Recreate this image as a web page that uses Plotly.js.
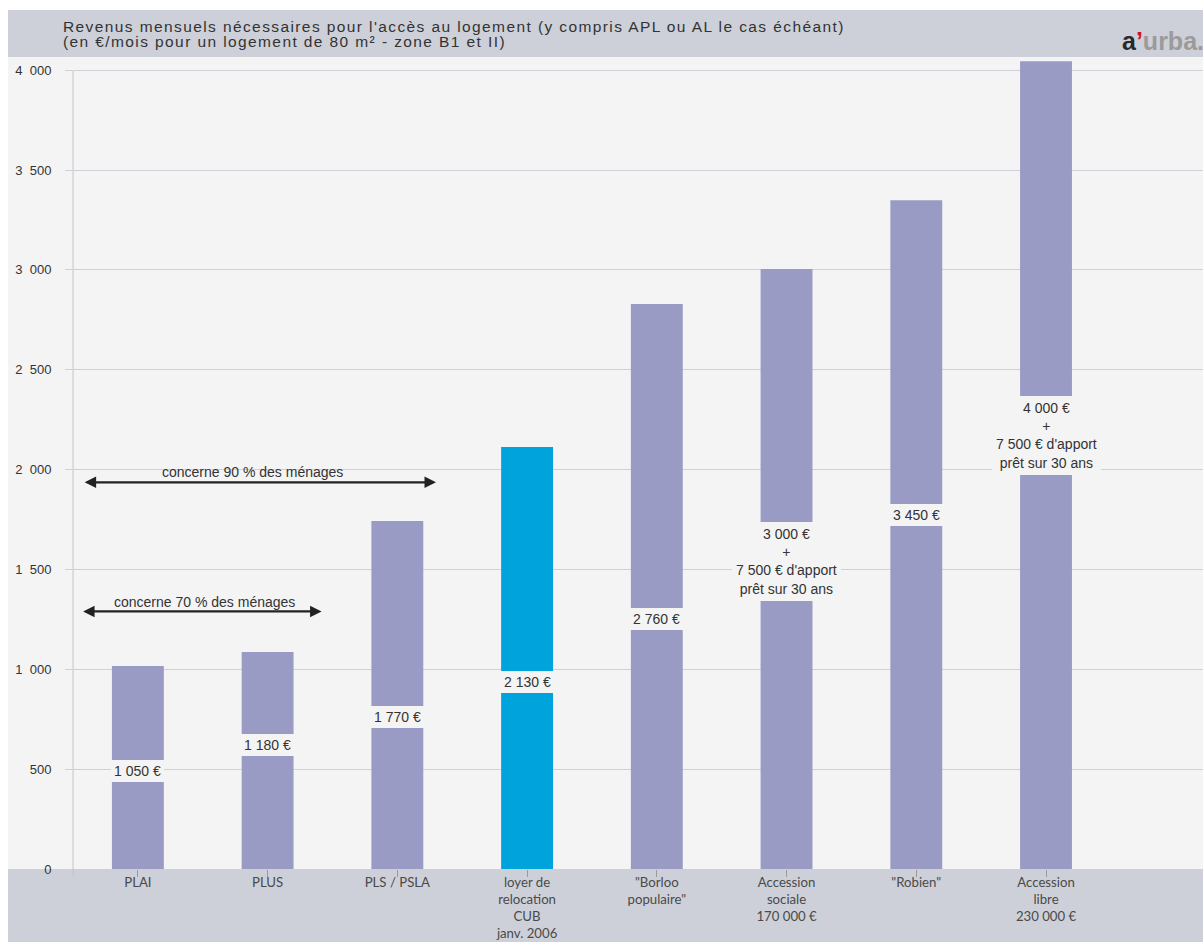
<!DOCTYPE html>
<html>
<head>
<meta charset="utf-8">
<script src="https://cdn.plot.ly/plotly-3.0.1.min.js"></script>
<style>
html, body { margin: 0; padding: 0; background: #ffffff; }
text[data-unformatted^="Revenus"], text[data-unformatted^="(en"] { letter-spacing: 1.4px; }
</style>
</head>
<body>
<div id="chart" style="width:1203px;height:942px;"></div>
<script>
// ---- data ----
const categories = [
  "PLAI",
  "PLUS",
  "PLS / PSLA",
  "loyer de<br>relocation<br>CUB<br>janv. 2006",
  "\"Borloo<br>populaire\"",
  "Accession<br>sociale<br>170 000 €",
  "\"Robien\"",
  "Accession<br>libre<br>230 000 €"
];
const barValues = [1016, 1086, 1742, 2113, 2829, 3004, 3349, 4045];
const barLabels = [
  "1 050 €",
  "1 180 €",
  "1 770 €",
  "2 130 €",
  "2 760 €",
  "3 000 €<br>+<br>7 500 € d'apport<br>prêt sur 30 ans",
  "3 450 €",
  "4 000 €<br>+<br>7 500 € d'apport<br>prêt sur 30 ans"
];
const labelLevels = [491, 621, 761, 936, 1250, 1540, 1772, 2173];
const highlightCategory = "loyer de<br>relocation<br>CUB<br>janv. 2006";

const yTickVals = [0, 500, 1000, 1500, 2000, 2500, 3000, 3500, 4000];
const yTickText = ["0", "500", "1\u2007000", "1\u2007500", "2\u2007000", "2\u2007500", "3\u2007000", "3\u2007500", "4\u2007000"];

const arrowTexts = ["concerne 90 % des ménages", "concerne 70 % des ménages"];
const arrowStart = [-0.422, -0.434];
const arrowEnd = [2.298, 1.416];
const arrowLevels = [1936, 1290];
const arrowTextX = [0.885, 0.517];
const arrowTextLevels = [1990, 1338];

const titleLines = [
  "Revenus mensuels nécessaires pour l'accès au logement (y compris APL ou AL le cas échéant)",
  "(en €/mois pour un logement de 80 m² - zone B1 et II)"
];

// ---- styling ----
const W = 1203, H = 942;
const M = { l: 73, r: 0, t: 57, b: 73 };
const plotW = W - M.l - M.r, plotH = H - M.t - M.b;
const px2paperX = p => (p - M.l) / plotW;
const px2paperY = p => (H - M.b - p) / plotH;
const yMax = 4066;

const BAR = '#999bc5', HL = '#00a3dc';
const LIGHT = '#f4f4f4', BAND = '#cdd0d8';
const SANS = 'Liberation Sans, Arial, sans-serif';

const trace = {
  type: 'bar',
  x: categories,
  y: barValues,
  width: 0.4,
  marker: { color: categories.map(c => c === highlightCategory ? HL : BAR), line: { width: 0 } },
  hoverinfo: 'none'
};

const shapes = [
  { type: 'rect', xref: 'paper', yref: 'paper', x0: px2paperX(8), x1: 1, y0: 0, y1: 1, fillcolor: LIGHT, line: { width: 0 }, layer: 'below' },
  { type: 'rect', xref: 'paper', yref: 'paper', x0: px2paperX(8), x1: 1, y0: 1, y1: px2paperY(10), fillcolor: BAND, line: { width: 0 }, layer: 'below' },
  { type: 'rect', xref: 'paper', yref: 'paper', x0: px2paperX(8), x1: 1, y0: px2paperY(H), y1: 0, fillcolor: BAND, line: { width: 0 }, layer: 'below' },
  { type: 'line', xref: 'paper', yref: 'paper', x0: 0, x1: 0, y0: px2paperY(877), y1: 4000 / yMax, line: { color: '#c4c4c8', width: 1 }, layer: 'above' }
];

const annotations = [];
titleLines.forEach((t, i) => {
  annotations.push({
    xref: 'paper', yref: 'paper', x: px2paperX(63), y: px2paperY(i === 0 ? 26 : 41),
    xanchor: 'left', yanchor: 'middle', showarrow: false, text: t,
    borderpad: 0, borderwidth: 0,
    font: { family: SANS, size: 15.5, color: '#333333' }
  });
});
annotations.push({
  xref: 'paper', yref: 'paper', x: px2paperX(1122), y: px2paperY(41),
  xanchor: 'left', yanchor: 'middle', showarrow: false, borderpad: 0, borderwidth: 0,
  text: '<b><span style="color:#2a2a2a">a</span><span style="color:#c8161d">\u2019</span><span style="color:#9b9b9b">urba.</span></b>',
  font: { family: SANS, size: 25, color: '#9b9b9b' }
});
barLabels.forEach((t, i) => {
  const multi = t.indexOf('<br>') >= 0;
  annotations.push({
    xref: 'x', yref: 'y', x: i, y: labelLevels[i], showarrow: false, text: t,
    xanchor: 'center', yanchor: 'middle',
    bgcolor: LIGHT, borderpad: multi ? 3 : 2, borderwidth: 1, bordercolor: LIGHT,
    font: { family: SANS, size: 14, color: '#333333' }
  });
});
arrowTexts.forEach((t, i) => {
  annotations.push({
    xref: 'x', yref: 'y', x: arrowEnd[i], y: arrowLevels[i],
    axref: 'x', ayref: 'y', ax: arrowStart[i], ay: arrowLevels[i],
    text: '', showarrow: true, arrowhead: 2, startarrowhead: 2, arrowside: 'end+start',
    arrowsize: 1, startarrowsize: 1, arrowwidth: 2.3, arrowcolor: '#222222', standoff: 0, startstandoff: 0
  });
  annotations.push({
    xref: 'x', yref: 'y', x: arrowTextX[i], y: arrowTextLevels[i], showarrow: false, text: t,
    xanchor: 'center', yanchor: 'middle',
    font: { family: SANS, size: 14, color: '#333333' }
  });
});

const layout = {
  width: W, height: H,
  margin: { l: M.l, r: M.r, t: M.t, b: M.b, pad: 0 },
  paper_bgcolor: '#ffffff',
  plot_bgcolor: 'rgba(0,0,0,0)',
  showlegend: false,
  xaxis: {
    type: 'category', range: [-0.5, 8.21],
    ticks: 'outside', ticklen: 7, tickcolor: '#9a9a9a', tickwidth: 1,
    showgrid: false, zeroline: false, showline: false,
    ticklabelstandoff: -6,
    tickfont: { family: 'Lato, sans-serif', size: 13.2, color: '#4a4a4a' },
    fixedrange: true
  },
  yaxis: {
    range: [0, yMax], tickvals: yTickVals, ticktext: yTickText,
    ticks: 'outside', ticklen: 7, tickcolor: '#d0d0d8', tickwidth: 1,
    showgrid: true, gridcolor: '#d0d0d8', gridwidth: 1,
    zeroline: false, showline: false,
    ticklabelstandoff: 11,
    tickfont: { family: SANS, size: 13, color: '#333333' },
    fixedrange: true
  },
  shapes: shapes,
  annotations: annotations
};

Plotly.newPlot('chart', [trace], layout, { displayModeBar: false, staticPlot: true });
</script>
</body>
</html>
